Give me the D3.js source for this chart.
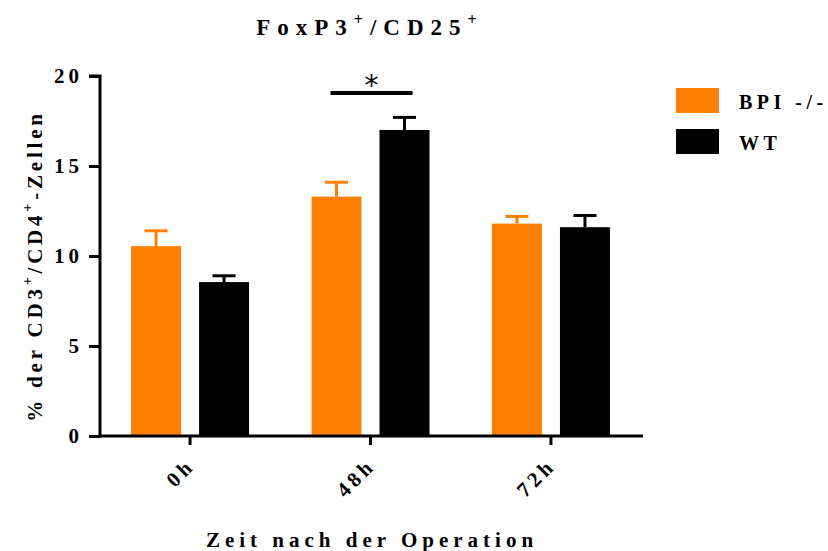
<!DOCTYPE html>
<html>
<head>
<meta charset="utf-8">
<script src="https://cdn.jsdelivr.net/npm/d3@7"></script>
<style>
  body { margin: 0; background: #fff; }
  svg text { font-family: "Liberation Serif", "DejaVu Serif", serif; font-weight: bold; fill: #000; }
</style>
</head>
<body>
<svg id="chart" width="828" height="551"></svg>
<script>
// Time points after surgery and the two genotypes
const timepoints = ["0h", "48h", "72h"];
const groups = ["BPI -/-", "WT"];
const groupColors = ["#FF8000", "#000000"];
// Mean % FoxP3+/CD25+ of CD3+/CD4+ cells and SEM per time point
const bpiMeans = [10.55, 13.3, 11.8];
const bpiErr = [0.85, 0.8, 0.4];
const wtMeans = [8.55, 17.0, 11.6];
const wtErr = [0.35, 0.7, 0.65];
const yTicks = [0, 5, 10, 15, 20];
// Significance marker between groups at 48h
const sigTime = "48h";
const sigLabel = "*";

const svg = d3.select("#chart");
const margin = { left: 100, top: 76 };

const g = svg.append("g").attr("transform", `translate(${margin.left},${margin.top})`);

const x = d3.scaleBand().domain(timepoints).range([0, 541]).paddingInner(0.346).paddingOuter(0.172);
const xg = d3.scaleBand().domain(groups).range([0, x.bandwidth()]).paddingInner(0.265);
const y = d3.scaleLinear().domain([0, 20]).range([360, 0]);

const rows = timepoints.map((t, i) => ({
  t,
  vals: [
    { grp: groups[0], v: bpiMeans[i], e: bpiErr[i], c: groupColors[0] },
    { grp: groups[1], v: wtMeans[i], e: wtErr[i], c: groupColors[1] }
  ]
}));

// Bars with upper error whiskers
const grp = g.selectAll(".grp").data(rows).join("g")
  .attr("transform", d => `translate(${x(d.t)},0)`);

grp.selectAll("rect").data(d => d.vals).join("rect")
  .attr("x", d => xg(d.grp))
  .attr("width", xg.bandwidth())
  .attr("y", d => y(d.v))
  .attr("height", d => y(0) - y(d.v))
  .attr("fill", d => d.c);

grp.selectAll(".whisk").data(d => d.vals).join("line")
  .attr("class", "whisk")
  .attr("x1", d => xg(d.grp) + xg.bandwidth() / 2)
  .attr("x2", d => xg(d.grp) + xg.bandwidth() / 2)
  .attr("y1", d => y(d.v))
  .attr("y2", d => y(d.v + d.e))
  .attr("stroke", d => d.c).attr("stroke-width", 3);

grp.selectAll(".cap").data(d => d.vals).join("line")
  .attr("class", "cap")
  .attr("x1", d => xg(d.grp) + xg.bandwidth() / 2 - 11.5)
  .attr("x2", d => xg(d.grp) + xg.bandwidth() / 2 + 11.5)
  .attr("y1", d => y(d.v + d.e))
  .attr("y2", d => y(d.v + d.e))
  .attr("stroke", d => d.c).attr("stroke-width", 3);

// Y axis
const yAxis = g.append("g")
  .call(d3.axisLeft(y).tickValues(yTicks).tickSize(11).tickPadding(6).tickFormat(d3.format("d")));
yAxis.select(".domain").attr("stroke-width", 3).attr("d", "M0,361.5V0H-11");
yAxis.selectAll(".tick line").attr("stroke-width", 3);
yAxis.selectAll(".tick text").style("font-size", "21px").style("letter-spacing", "4px");

// X axis
const xAxis = g.append("g").attr("transform", `translate(0,${y(0)})`)
  .call(d3.axisBottom(x).tickSize(9));
xAxis.select(".domain").attr("stroke-width", 3).attr("d", "M-1.5,0H543");
xAxis.selectAll(".tick line").attr("stroke-width", 3);
xAxis.selectAll(".tick text")
  .style("font-size", "21px").style("letter-spacing", "4px")
  .attr("text-anchor", "end")
  .attr("x", 0).attr("y", 0).attr("dy", 0)
  .attr("transform", "translate(6,31) rotate(-45)");

// Significance bracket
const sx = x(sigTime);
g.append("line")
  .attr("x1", sx + xg(groups[0]) + 19).attr("x2", sx + xg(groups[1]) + 33)
  .attr("y1", y(19.05)).attr("y2", y(19.05))
  .attr("stroke", "#000").attr("stroke-width", 4);
g.append("text")
  .attr("x", sx + x.bandwidth() / 2 + 1).attr("y", y(19.05) + 2)
  .attr("text-anchor", "middle")
  .style("font-size", "28px").style("font-weight", "normal").style("font-family", "DejaVu Sans")
  .text(sigLabel);

// Title
const title = svg.append("text").attr("x", 370).attr("y", 35).attr("text-anchor", "middle")
  .style("font-size", "23px").style("letter-spacing", "7px");
title.append("tspan").text("FoxP3");
title.append("tspan").attr("dy", -10).style("font-size", "16px").text("+");
title.append("tspan").attr("dy", 10).text("/CD25");
title.append("tspan").attr("dy", -10).style("font-size", "16px").text("+");

// Y axis title
const yl = svg.append("text")
  .attr("transform", "translate(42,266) rotate(-90)")
  .attr("text-anchor", "middle")
  .style("font-size", "21px").style("letter-spacing", "3.8px");
yl.append("tspan").text("% der CD3");
yl.append("tspan").attr("dy", -10).style("font-size", "14px").text("+");
yl.append("tspan").attr("dy", 10).text("/CD4");
yl.append("tspan").attr("dy", -10).style("font-size", "14px").text("+");
yl.append("tspan").attr("dy", 10).text("-Zellen");

// X axis title
svg.append("text").attr("x", 372).attr("y", 547).attr("text-anchor", "middle")
  .style("font-size", "21px").style("letter-spacing", "5px")
  .text("Zeit nach der Operation");

// Legend
const leg = svg.append("g").attr("transform", "translate(676,88)");
groups.forEach((name, i) => {
  leg.append("rect").attr("x", 0).attr("y", i * 41).attr("width", 43).attr("height", 25)
    .attr("fill", groupColors[i]);
  leg.append("text").attr("x", 63).attr("y", i * 41 + 21)
    .style("font-size", "20px").style("letter-spacing", "4.5px").text(name);
});
</script>
</body>
</html>
